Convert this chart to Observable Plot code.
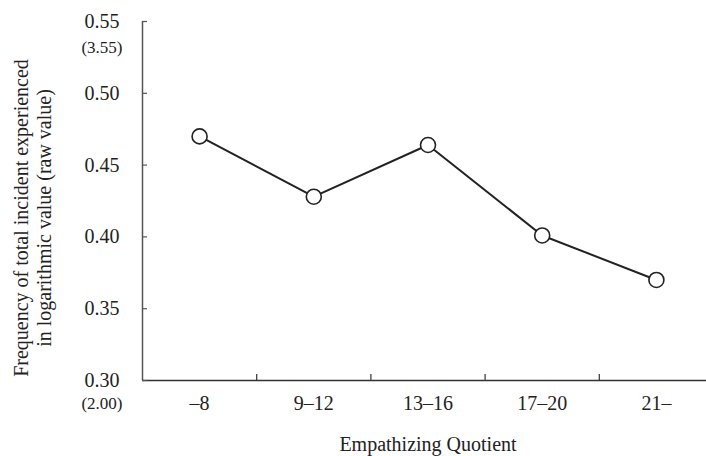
<!DOCTYPE html>
<html>
<head>
<meta charset="utf-8">
<script src="https://cdn.jsdelivr.net/npm/d3@7"></script>
<script src="https://cdn.jsdelivr.net/npm/@observablehq/plot@0.6"></script>
<style>
  html, body { margin: 0; padding: 0; background: #fff; }
  #chart svg { display: block; overflow: hidden; }
</style>
</head>
<body>
<div id="chart"></div>
<script>
const categories = ["\u20138", "9\u201312", "13\u201316", "17\u201320", "21\u2013"];
const values = [0.470, 0.428, 0.464, 0.401, 0.370];
const yTicks = [0.30, 0.35, 0.40, 0.45, 0.50, 0.55];
const rawTop = {y: 0.55, text: "(3.55)"};
const rawBottom = {y: 0.30, text: "(2.00)"};
const yTitle = "Frequency of total incident experienced\nin logarithmic value (raw value)";
const xTitle = "Empathizing Quotient";

const data = categories.map((c, i) => ({cat: c, pos: i + 0.5, value: values[i]}));
const boundaries = d3.range(1, categories.length);

const font = "'Liberation Serif', 'DejaVu Serif', serif";

const chart = Plot.plot({
  width: 706,
  height: 456,
  marginLeft: 142,
  marginRight: -7,
  marginTop: 21,
  marginBottom: 76,
  style: {fontFamily: font, color: "#222", background: "#fff"},
  x: {domain: [0, categories.length], axis: null},
  y: {domain: [0.30, 0.55], axis: null},
  marks: [
    // left axis line
    Plot.ruleX([0], {stroke: "#555", strokeWidth: 1.5}),
    // bottom axis line
    Plot.ruleY([0.30], {stroke: "#333", strokeWidth: 1.5}),
    // inward y ticks
    Plot.axisY(yTicks, {anchor: "left", tickSize: 5, dx: 5, tickFormat: () => "", label: null, stroke: "#555", strokeWidth: 1.2}),
    // upward x ticks at category boundaries
    Plot.axisX(boundaries, {anchor: "bottom", tickSize: 6, dy: -6, tickFormat: () => "", label: null, stroke: "#333", strokeWidth: 1.2}),
    // y tick labels
    Plot.text(yTicks, {y: d => d, text: d => d.toFixed(2), frameAnchor: "left", dx: -23, textAnchor: "end", fontSize: 20, fill: "#222"}),
    Plot.text([rawTop], {y: "y", text: "text", frameAnchor: "left", dx: -20, dy: 26, textAnchor: "end", fontSize: 17, fill: "#222"}),
    Plot.text([rawBottom], {y: "y", text: "text", frameAnchor: "left", dx: -20, dy: 23, textAnchor: "end", fontSize: 17, fill: "#222"}),
    // x tick labels
    Plot.text(data, {x: "pos", text: "cat", frameAnchor: "bottom", dy: 29, fontSize: 20, fill: "#222"}),
    // axis titles
    Plot.text([xTitle], {frameAnchor: "bottom", dy: 70, textAnchor: "middle", fontSize: 20, fill: "#222"}),
    Plot.text([yTitle], {frameAnchor: "left", textAnchor: "middle", dx: -110, dy: 17, rotate: -90, fontSize: 20, lineHeight: 1.15, fill: "#222"}),
    // data
    Plot.line(data, {x: "pos", y: "value", stroke: "#222", strokeWidth: 2}),
    Plot.dot(data, {x: "pos", y: "value", r: 7.5, fill: "#fff", stroke: "#222", strokeWidth: 1.6})
  ]
});

document.getElementById("chart").appendChild(chart);
</script>
</body>
</html>
